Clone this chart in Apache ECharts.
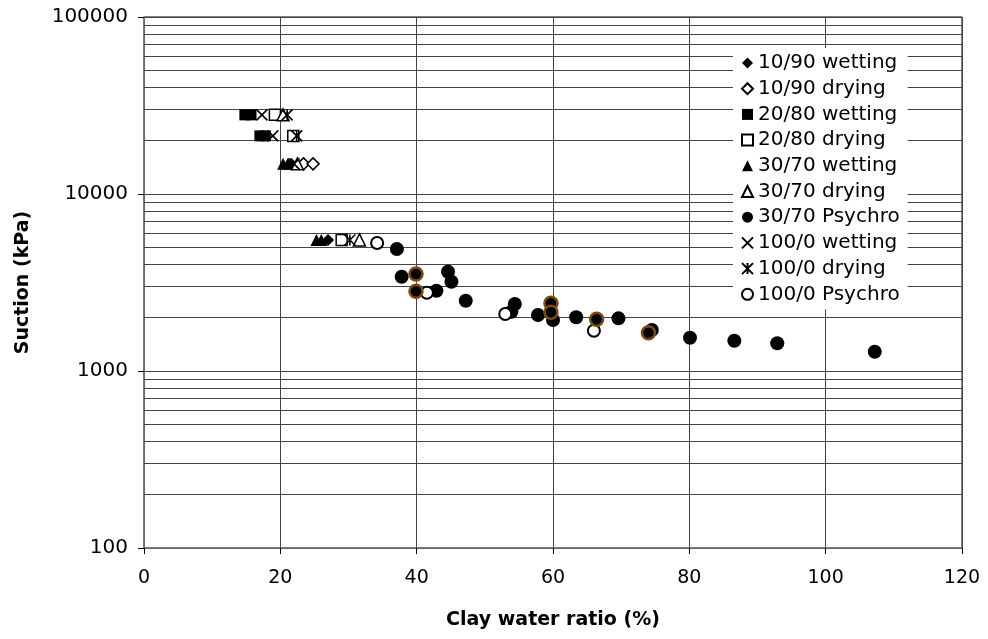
<!DOCTYPE html>
<html>
<head>
<meta charset="utf-8">
<script src="https://cdn.jsdelivr.net/npm/echarts@6/dist/echarts.min.js"></script>
<style>
  html, body { margin: 0; padding: 0; background: #fff; }
  #chart { width: 988px; height: 639px; }
</style>
</head>
<body>
<div id="chart"></div>
<script>
// values: [clay water ratio %, suction kPa]
var wet1090 = [[21.6, 14800], [27.0, 5500]];
var dry1090 = [[23.4, 14800], [24.8, 14800]];
var wet2080 = [[14.8, 28000], [15.7, 28000], [17.0, 21300], [17.8, 21300]];
var dry2080 = [[19.2, 28000], [21.9, 21300], [29.0, 5500]];
var wet3070 = [[20.4, 14800], [21.1, 14800], [25.3, 5500], [26.0, 5500]];
var dry3070 = [[20.4, 28000], [22.5, 14800], [31.6, 5500]];
var psy3070 = [[37.1, 4890], [37.8, 3410], [42.9, 2843], [44.6, 3640], [45.1, 3196],
    [47.2, 2495], [53.9, 2162], [54.4, 2390], [57.8, 2072], [60.0, 1941], [63.4, 2011],
    [69.6, 1984], [74.5, 1704], [80.1, 1542], [86.6, 1483], [92.9, 1434], [107.2, 1285]];
var psy3070b = [[39.9, 3530], [39.9, 2820], [59.7, 2413], [59.7, 2146], [66.4, 1959], [74.0, 1646]];
var wet1000 = [[17.3, 28000], [18.9, 21300], [22.0, 14800]];
var dry1000 = [[21.0, 28000], [22.4, 21300], [30.2, 5500]];
var psy1000 = [[34.2, 5287], [41.5, 2770], [53.0, 2099], [66.0, 1689]];

var legendNames = ['10/90 wetting', '10/90 drying', '20/80 wetting', '20/80 drying',
    '30/70 wetting', '30/70 drying', '30/70 Psychro', '100/0 wetting', '100/0 drying', '100/0 Psychro'];

var xTicks = [0, 20, 40, 60, 80, 100, 120];
var yDecades = [100, 1000, 10000, 100000];

var FONT = 'DejaVu Sans';
var crossPath = 'path://M0,0L10,10M10,0L0,10';
var starPath = 'path://M0,0L10,10M10,0L0,10M5,0L5,10';

// minor horizontal grid lines at 2..9 x each decade
var minorLines = [];
for (var d = 0; d < yDecades.length - 1; d++) {
    for (var k = 2; k <= 9; k++) {
        minorLines.push({yAxis: yDecades[d] * k});
    }
}

var filled = {color: '#000', opacity: 1};
var hollow = {color: '#fff', borderColor: '#000', borderWidth: 1.5, opacity: 1};
var stroke = {color: 'transparent', borderColor: '#000', borderWidth: 1.6, opacity: 1};

function sc(name, data, symbol, size, style, z) {
    return {
        name: name,
        type: 'scatter',
        data: data,
        symbol: symbol,
        symbolSize: size,
        itemStyle: style,
        z: z || 3,
        emphasis: {disabled: true}
    };
}

var chart = echarts.init(document.getElementById('chart'), null, {renderer: 'canvas'});

chart.setOption({
    animation: false,
    backgroundColor: '#fff',
    grid: {
        left: 144, right: 26, top: 17, bottom: 91,
        show: true, borderColor: '#000', borderWidth: 1
    },
    legend: {
        data: legendNames,
        orient: 'vertical',
        left: 733,
        top: 48,
        z: 10,
        padding: [5, 8, 5, 8],
        backgroundColor: '#fff',
        itemWidth: 11,
        itemHeight: 11,
        itemGap: 5.7,
        textStyle: {fontFamily: FONT, fontSize: 20, color: '#000'}
    },
    xAxis: {
        type: 'value',
        min: 0, max: 120, interval: 20,
        name: 'Clay water ratio (%)',
        nameLocation: 'middle',
        nameGap: 63,
        nameTextStyle: {fontFamily: FONT, fontSize: 19, fontWeight: 'bold', color: '#000'},
        axisLine: {show: true, lineStyle: {color: '#777', width: 1.5}},
        axisTick: {show: true, length: 6, lineStyle: {color: '#000'}},
        axisLabel: {margin: 21, fontFamily: FONT, fontSize: 19, color: '#000',
            formatter: function (v) { return xTicks.indexOf(v) >= 0 ? String(v) : ''; }},
        splitLine: {show: true, lineStyle: {color: '#444', width: 1}}
    },
    yAxis: {
        type: 'log',
        logBase: 10,
        min: yDecades[0], max: yDecades[yDecades.length - 1],
        name: 'Suction (kPa)',
        nameLocation: 'middle',
        nameGap: 111,
        nameTextStyle: {fontFamily: FONT, fontSize: 19, fontWeight: 'bold', color: '#000'},
        axisLine: {show: true, lineStyle: {color: '#777', width: 1.5}},
        axisTick: {show: true, length: 6, lineStyle: {color: '#000'}},
        axisLabel: {margin: 16, fontFamily: FONT, fontSize: 20, color: '#000',
            formatter: function (v) { return String(Math.round(v)); }},
        splitLine: {show: true, lineStyle: {color: '#444', width: 1}}
    },
    series: [
        {
            name: 'grid',
            type: 'scatter',
            data: [],
            z: 1,
            silent: true,
            markLine: {
                silent: true,
                z: 1,
                symbol: 'none',
                label: {show: false},
                emphasis: {disabled: true},
                lineStyle: {color: '#444', type: 'solid', width: 1},
                data: minorLines
            }
        },
        sc('10/90 wetting', wet1090, 'diamond', 12, filled),
        sc('10/90 drying', dry1090, 'diamond', 12, hollow),
        sc('20/80 wetting', wet2080, 'rect', 11, filled),
        sc('20/80 drying', dry2080, 'rect', 11, hollow),
        sc('30/70 wetting', wet3070, 'triangle', 12, filled),
        sc('30/70 drying', dry3070, 'triangle', 12, hollow),
        sc('30/70 Psychro', psy3070, 'circle', 14, filled),
        sc('30/70 Psychro (b)', psy3070b, 'circle', 13, {color: '#000', borderColor: '#7a4a14', borderWidth: 2.5, opacity: 1}, 4),
        sc('100/0 wetting', wet1000, crossPath, 11, stroke),
        sc('100/0 drying', dry1000, starPath, 11, stroke),
        sc('100/0 Psychro', psy1000, 'circle', 12, {color: '#fff', borderColor: '#000', borderWidth: 2, opacity: 1})
    ]
});
</script>
</body>
</html>
